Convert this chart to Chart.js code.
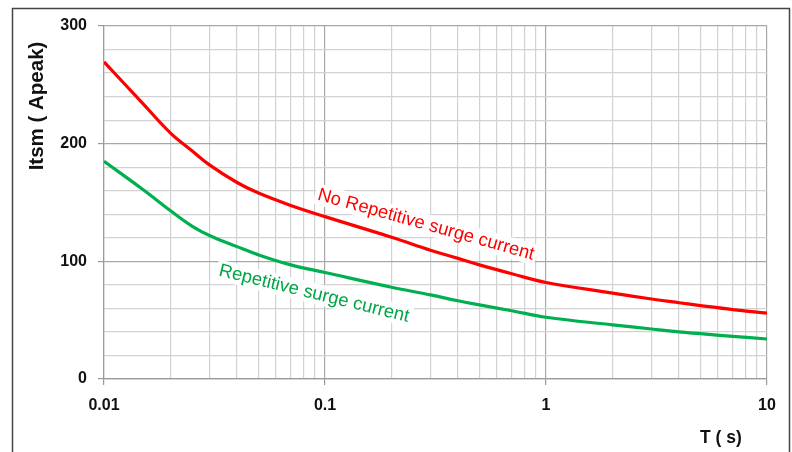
<!DOCTYPE html>
<html>
<head>
<meta charset="utf-8">
<script src="https://cdn.jsdelivr.net/npm/chart.js@4/dist/chart.umd.min.js"></script>
<style>
html,body{margin:0;padding:0;background:#fff;}
#wrap{width:792px;height:452px;position:relative;}
</style>
</head>
<body>
<div id="wrap"><canvas id="c" width="792" height="452"></canvas></div>
<script>
// ---- data ----
const T = [0.01, 0.015, 0.02, 0.025, 0.03, 0.04, 0.05, 0.07, 0.1, 0.2, 0.3, 0.4, 0.5, 0.7, 1, 2, 3, 4, 5, 7, 10];
const noRepetitive = [269.5, 234, 209, 194, 182, 167, 158, 147.5, 138, 120.5, 109.5, 102.5, 97, 89.5, 82, 73, 68, 64.8, 62.4, 59, 56];
const repetitive   = [185, 161, 143, 130, 122, 112.5, 105.5, 97, 90.5, 78, 71.5, 66.5, 63, 58, 52.5, 46, 42.5, 40, 38.5, 36.2, 34];
const xGridValues = [0.01,0.02,0.03,0.04,0.05,0.06,0.07,0.08,0.09,
                     0.1,0.2,0.3,0.4,0.5,0.6,0.7,0.8,0.9,
                     1,2,3,4,5,6,7,8,9,10];
const xTickLabels = ['0.01','0.1','1','10'];
const yTickLabels = [0, 100, 200, 300];
const seriesNames = ['No Repetitive surge current', 'Repetitive surge current'];
const xTitle = 'T ( s)';
const yTitle = 'Itsm ( Apeak)';

const FONT = "'Liberation Sans', Arial, sans-serif";
const RED = '#ff0000';
const GREEN = '#00b050';

function isMajorX(v){
  const l = Math.log10(v);
  return Math.abs(l - Math.round(l)) < 1e-6;
}
function xLabel(v){
  for (const s of xTickLabels){ if (Math.abs(parseFloat(s) - v) < 1e-9) return s; }
  return '';
}

const decor = {
  id: 'decor',
  beforeDraw(chart){
    const ctx = chart.ctx;
    ctx.save();
    ctx.fillStyle = '#fff';
    ctx.fillRect(0,0,chart.width,chart.height);
    ctx.strokeStyle = '#444';
    ctx.lineWidth = 1.5;
    ctx.strokeRect(12.5, 8.5, 777, 460);
    ctx.restore();
  },
  afterDatasetsDraw(chart){
    const ctx = chart.ctx;
    const xs = chart.scales.x, ys = chart.scales.y;
    function label(text, tx, ty, angle, color){
      ctx.save();
      ctx.font = "18.4px " + FONT;
      const w = ctx.measureText(text).width;
      ctx.translate(xs.getPixelForValue(tx), ys.getPixelForValue(ty));
      ctx.rotate(angle * Math.PI / 180);
      ctx.fillStyle = 'rgba(255,255,255,0.9)';
      ctx.fillRect(-3, -16, w + 6, 21);
      ctx.fillStyle = color;
      ctx.textBaseline = 'alphabetic';
      ctx.fillText(text, 0, 0);
      ctx.restore();
    }
    label(seriesNames[0], 0.0918, 152.5, 15.6, RED);
    label(seriesNames[1], 0.0328, 88, 13.8, '#00a645');

    // axis titles
    ctx.save();
    ctx.fillStyle = '#111';
    ctx.font = "bold 20.5px " + FONT;
    ctx.textAlign = 'center';
    ctx.textBaseline = 'middle';
    ctx.translate(37, 106);
    ctx.rotate(-Math.PI/2);
    ctx.fillText(yTitle, 0, 0);
    ctx.restore();
    ctx.save();
    ctx.fillStyle = '#111';
    ctx.font = "bold 17.5px " + FONT;
    ctx.textAlign = 'left';
    ctx.textBaseline = 'alphabetic';
    ctx.fillText(xTitle, 700, 443);
    ctx.restore();
  }
};

new Chart(document.getElementById('c'), {
  type: 'line',
  data: {
    datasets: [
      { label: seriesNames[0], data: T.map((t,i)=>({x:t, y:noRepetitive[i]})),
        borderColor: RED, borderWidth: 3.2, pointRadius: 0, fill: false, tension: 0.4 },
      { label: seriesNames[1], data: T.map((t,i)=>({x:t, y:repetitive[i]})),
        borderColor: GREEN, borderWidth: 3.2, pointRadius: 0, fill: false, tension: 0.4 }
    ]
  },
  options: {
    responsive: false,
    animation: false,
    events: [],
    layout: { padding: { top: 26, right: 25, left: 0, bottom: 0 } },
    plugins: { legend: { display: false }, tooltip: { enabled: false } },
    scales: {
      x: {
        type: 'logarithmic', min: 0.01, max: 10,
        afterBuildTicks(axis){ axis.ticks = xGridValues.map(v => ({ value: v })); },
        afterFit(axis){ axis.height = 73; },
        ticks: {
          autoSkip: false, maxRotation: 0, padding: 11, color: '#111',
          font: { family: FONT, size: 16, weight: 'bold' },
          callback: (v) => xLabel(v)
        },
        grid: {
          color: (c) => (c.tick && isMajorX(c.tick.value)) ? '#a8a8a8' : '#d2d2d2',
          tickColor: (c) => (c.tick && isMajorX(c.tick.value)) ? '#9a9a9a' : 'rgba(0,0,0,0)',
          tickLength: 6, lineWidth: 1.2
        },
        border: { color: '#9a9a9a', width: 1.2 }
      },
      y: {
        type: 'linear', min: 0, max: 300,
        afterFit(axis){ axis.width = 104; },
        ticks: {
          stepSize: 20, color: '#111', padding: 11,
          font: { family: FONT, size: 16, weight: 'bold' },
          callback: (v) => yTickLabels.includes(v) ? String(v) : ''
        },
        grid: {
          color: (c) => (c.tick && c.tick.value % 100 === 0) ? '#a8a8a8' : '#d2d2d2',
          tickColor: (c) => (c.tick && c.tick.value % 100 === 0) ? '#9a9a9a' : 'rgba(0,0,0,0)',
          tickLength: 6, lineWidth: 1.2
        },
        border: { color: '#9a9a9a', width: 1.2 }
      }
    }
  },
  plugins: [decor]
});
</script>
</body>
</html>
